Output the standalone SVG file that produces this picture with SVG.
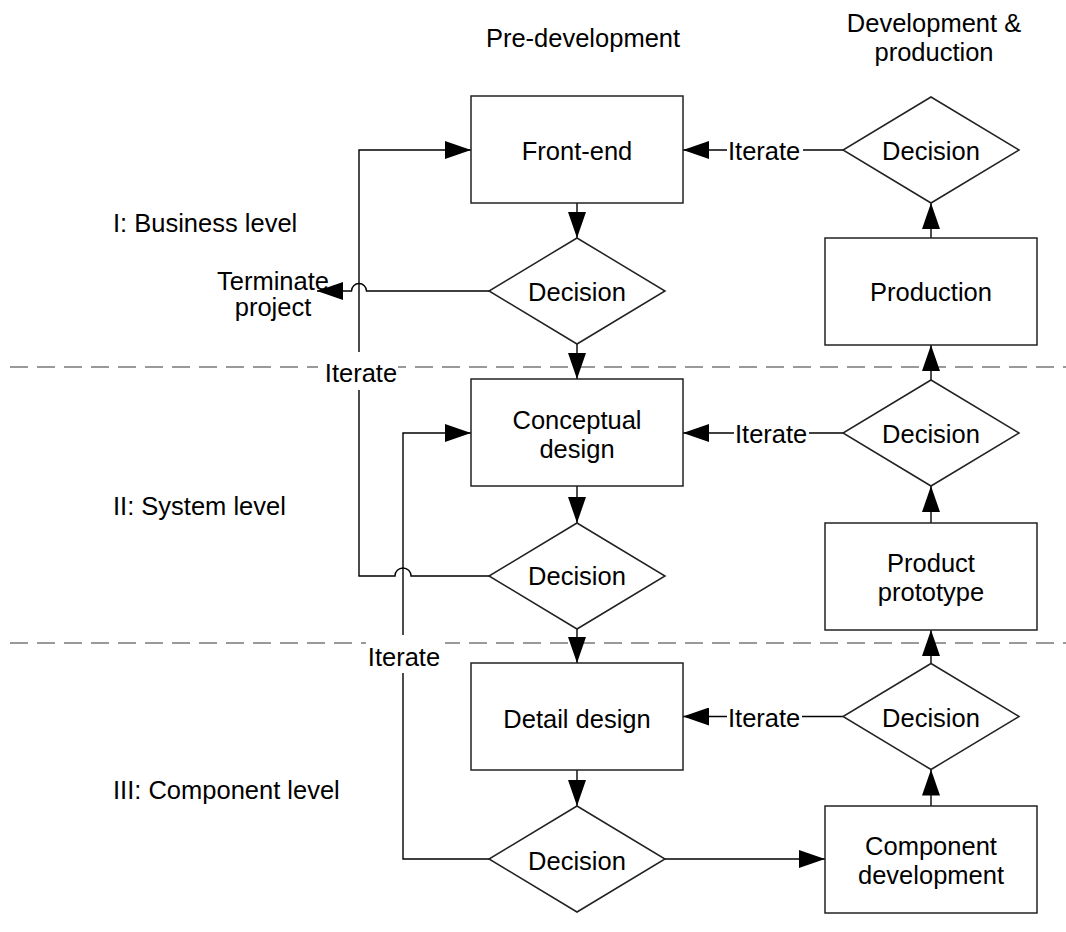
<svg xmlns="http://www.w3.org/2000/svg" width="1066" height="932" viewBox="0 0 1066 932">
<defs>
<style>
text{font-family:"Liberation Sans",Arial,sans-serif;font-size:25.5px;fill:#000}
.c{text-anchor:middle}
.box{fill:#fff;stroke:#222;stroke-width:1.5}
.con{fill:none;stroke:#000;stroke-width:1.4}
.arr{marker-end:url(#ah)}
.dash{stroke:#999;stroke-width:2.2;stroke-dasharray:18 9;fill:none}
.bg{fill:#fff}
</style>
<marker id="ah" markerUnits="userSpaceOnUse" markerWidth="26" markerHeight="18" refX="26" refY="9" orient="auto">
<path d="M0,0 L26,9 L0,18 z" fill="#000"/>
</marker>
</defs>
<rect width="1066" height="932" fill="#fff"/>

<g id="headers">
<text class="c" x="583" y="47">Pre-development</text>
<text class="c" x="934" y="32">Development &amp;</text>
<text class="c" x="934" y="61">production</text>
</g>
<g id="levels">
<text x="113" y="232">I: Business level</text>
<text x="113" y="515">II: System level</text>
<text x="113" y="799">III: Component level</text>
</g>

<g id="separators">
<line class="dash" x1="10" y1="367" x2="1066" y2="367"/>
<line class="dash" x1="10" y1="643" x2="1066" y2="643"/>
</g>

<g id="connectors">
<line class="con arr" x1="577" y1="203" x2="577" y2="238"/>
<line class="con arr" x1="577" y1="344" x2="577" y2="379"/>
<line class="con arr" x1="577" y1="486" x2="577" y2="523"/>
<line class="con arr" x1="577" y1="629" x2="577" y2="663"/>
<line class="con arr" x1="577" y1="770" x2="577" y2="806"/>
<line class="con arr" x1="665" y1="859" x2="825" y2="859"/>
<line class="con arr" x1="931" y1="806" x2="931" y2="769.5"/>
<line class="con arr" x1="931" y1="663.5" x2="931" y2="630"/>
<line class="con arr" x1="931" y1="523" x2="931" y2="486"/>
<line class="con arr" x1="931" y1="380" x2="931" y2="345"/>
<line class="con arr" x1="931" y1="238" x2="931" y2="203"/>
<!-- right iterate -->
<line class="con" x1="843" y1="150" x2="803" y2="150"/>
<line class="con arr" x1="727" y1="150" x2="683" y2="150"/>
<text x="728" y="160">Iterate</text>
<line class="con" x1="843" y1="433" x2="809" y2="433"/>
<line class="con arr" x1="734" y1="433" x2="683" y2="433"/>
<text x="735" y="443">Iterate</text>
<line class="con" x1="843" y1="716.5" x2="802" y2="716.5"/>
<line class="con arr" x1="727" y1="716.5" x2="683" y2="716.5"/>
<text x="728" y="726.5">Iterate</text>
<!-- terminate -->
<path class="con arr" d="M489,291 H366.5 A7.5,7.5 0 0 0 351.5,291 H317"/>
<text class="c" x="273" y="290">Terminate</text>
<text class="c" x="273" y="316">project</text>
<!-- left loop 1 -->
<path class="con arr" d="M489,576 H411 A8,8 0 0 0 395,576 H359 V150 H471"/>
<!-- left loop 2 -->
<path class="con arr" d="M489,859 H403 V433 H471"/>
<rect class="bg" x="318" y="352" width="80" height="38"/>
<text class="c" x="361" y="382">Iterate</text>
<rect class="bg" x="366" y="635" width="79" height="38"/>
<text class="c" x="404" y="666">Iterate</text>
</g>

<g id="front-end">
<rect class="box" x="471" y="96" width="212" height="107"/>
<text class="c" x="577" y="160">Front-end</text>
</g>
<g id="decision-1">
<polygon class="box" points="577,238 665,291 577,344 489,291"/>
<text class="c" x="577" y="301">Decision</text>
</g>
<g id="conceptual-design">
<rect class="box" x="471" y="379" width="212" height="107"/>
<text class="c" x="577" y="429">Conceptual</text>
<text class="c" x="577" y="458">design</text>
</g>
<g id="decision-2">
<polygon class="box" points="577,523 665,576 577,629 489,576"/>
<text class="c" x="577" y="585">Decision</text>
</g>
<g id="detail-design">
<rect class="box" x="471" y="663" width="212" height="107"/>
<text class="c" x="577" y="728">Detail design</text>
</g>
<g id="decision-3">
<polygon class="box" points="577,806 665,859 577,912 489,859"/>
<text class="c" x="577" y="870">Decision</text>
</g>

<g id="decision-r1">
<polygon class="box" points="931,97 1019,150 931,203 843,150"/>
<text class="c" x="931" y="160">Decision</text>
</g>
<g id="production">
<rect class="box" x="825" y="238" width="212" height="107"/>
<text class="c" x="931" y="301">Production</text>
</g>
<g id="decision-r2">
<polygon class="box" points="931,380 1019,433 931,486 843,433"/>
<text class="c" x="931" y="443">Decision</text>
</g>
<g id="product-prototype">
<rect class="box" x="825" y="523" width="212" height="107"/>
<text class="c" x="931" y="572">Product</text>
<text class="c" x="931" y="601">prototype</text>
</g>
<g id="decision-r3">
<polygon class="box" points="931,663.5 1019,716.5 931,769.5 843,716.5"/>
<text class="c" x="931" y="726.5">Decision</text>
</g>
<g id="component-development">
<rect class="box" x="825" y="806" width="212" height="107"/>
<text class="c" x="931" y="855">Component</text>
<text class="c" x="931" y="884">development</text>
</g>
</svg>
